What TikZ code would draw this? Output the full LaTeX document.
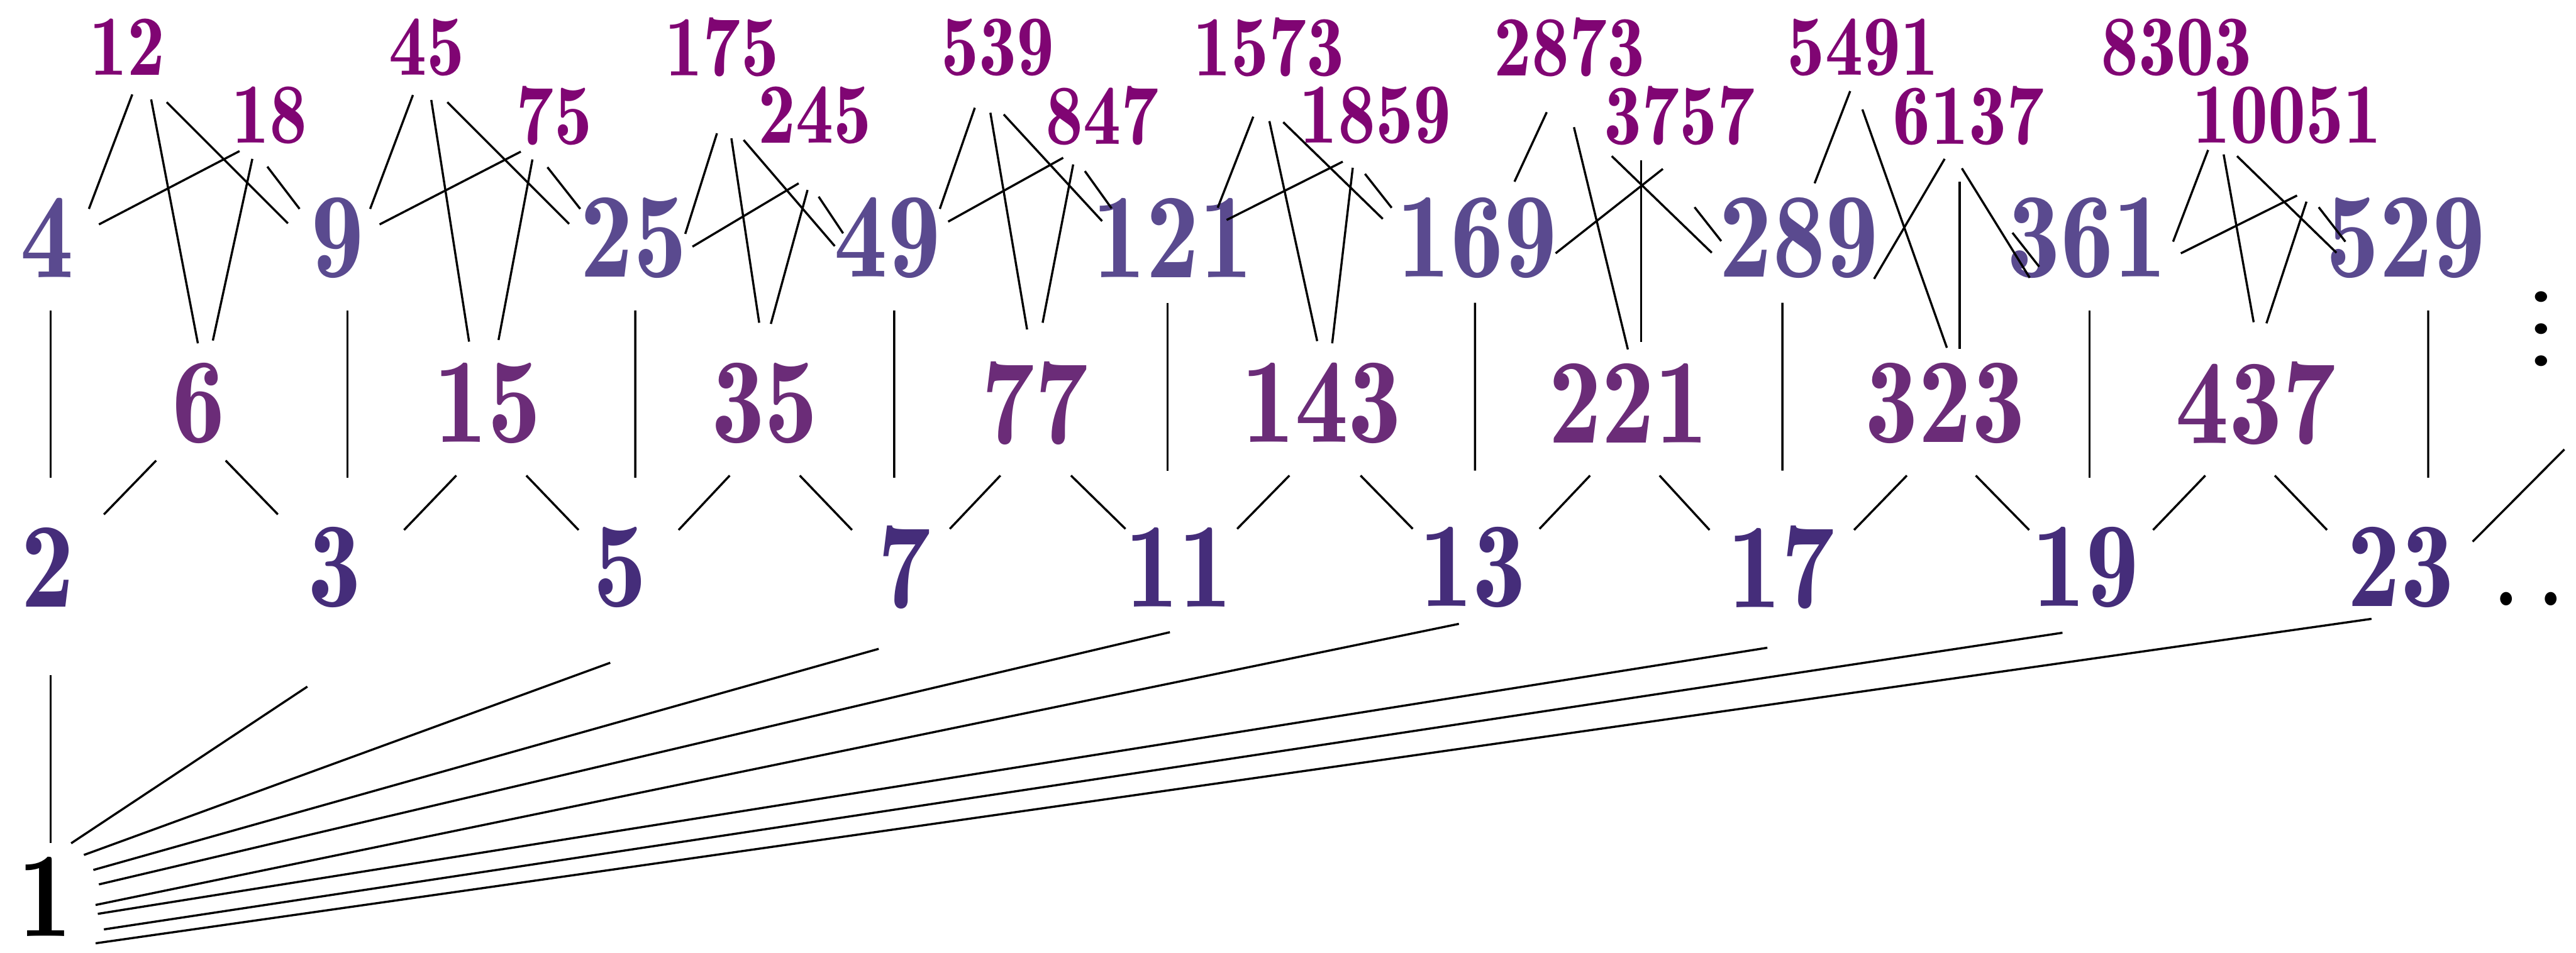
\documentclass[tikz,border=0pt]{standalone}
\usepackage{fontspec}
\setmainfont{lmromandemi10-regular.otf}[FakeStretch=0.88]
\usetikzlibrary{calc}
\definecolor{primecol}{RGB}{69,45,122}
\definecolor{sqcol}{RGB}{90,74,143}
\definecolor{pqcol}{RGB}{107,44,120}
\definecolor{topcol}{RGB}{128,5,115}

\begin{document}
\begin{tikzpicture}[
  num/.style={inner sep=0pt,font=\fontsize{62}{70}\selectfont},
  small/.style={inner sep=0pt,font=\fontsize{44}{50}\selectfont,text=topcol},
  link/.style={line width=1.1pt}
]
  \useasboundingbox (0,0) rectangle (46.35,-17.15);
  % unit
  \node[num] (one) at (0.81,-16.14) {1};
  % primes
  \foreach \n/\x in {2/0.86,3/6.02,5/11.16,7/16.27,11/21.21,13/26.50,17/32.05,19/37.53,23/43.20}
    \node[num,text=primecol] (p\n) at (\x,-10.21) {\n};
  \node[inner sep=0pt,font=\fontsize{44}{50}\selectfont] (dots) at (45.50,-10.78) {.\hspace{0.43cm}.};
  % products of two primes
  \foreach \n/\x in {6/3.57,15/8.77,35/13.76,77/18.62,143/23.78,221/29.30,323/35.00,437/40.59}
    \node[num,text=pqcol] (m\n) at (\x,-7.26) {\n};
  \node[inner sep=0pt,rotate=90,font=\fontsize{40}{46}\selectfont] (vdots) at (45.72,-5.92)
    {.\hspace{0.23cm}.\hspace{0.23cm}.};
  % squares
  \foreach \n/\x in {4/0.85,9/6.07,25/11.40,49/15.97,121/21.10,169/26.58,289/32.37,361/37.55,529/43.29}
    \node[num,text=sqcol] (q\n) at (\x,-4.28) {\n};
  % p^2 q and p q^2
  \foreach \n/\x in {12/2.29,45/7.68,175/12.99,539/17.95,1573/22.83,2873/28.24,5491/33.52,8303/39.16}
    \node[small] (a\n) at (\x,-0.85) {\n};
  \foreach \n/\x in {18/4.85,75/9.97,245/14.66,847/19.83,1859/24.75,3757/30.22,6137/35.42,10051/41.15}
    \node[small] (b\n) at (\x,-2.08) {\n};

  % 1 to the primes
  \foreach \p/\ax/\ay/\bx/\by in {p2/0.10/0.97/0.05/-1.94, p3/0.47/0.96/-0.49/-2.15,
      p5/0.70/0.75/-0.18/-1.72, p7/0.87/0.48/-0.46/-1.47, p11/0.97/0.22/-0.16/-1.17,
      p13/0.91/-0.15/-0.25/-1.02, p17/0.95/-0.31/-0.25/-1.45, p19/1.06/-0.59/-0.42/-1.18,
      p23/0.91/-0.84/-0.53/-0.93}
    \draw[link] ($(one)+(\ax,\ay)$) -- ($(\p)+(\bx,\by)$);
  % primes to squares
  \foreach \p/\ax/\ay/\q/\bx/\by in {p2/0.05/1.61/q4/0.06/-1.31, p3/0.23/1.61/q9/0.18/-1.31,
      p5/0.27/1.61/q25/0.03/-1.31, p7/-0.18/1.61/q49/0.12/-1.31, p11/-0.20/1.74/q121/-0.09/-1.17,
      p13/0.04/1.74/q169/-0.04/-1.17, p17/0.02/1.74/q289/-0.30/-1.17, p19/0.07/1.61/q361/0.05/-1.31,
      p23/0.49/1.61/q529/0.40/-1.31}
    \draw[link] ($(\p)+(\ax,\ay)$) -- ($(\q)+(\bx,\by)$);
  % products to primes
  \foreach \m/\ax/\ay/\p/\bx/\by in {m6/-0.76/-1.03/p2/1.01/0.95, m6/0.49/-1.03/p3/-1.02/0.95,
      m15/-0.56/-1.30/p3/1.25/0.67, m15/0.70/-1.30/p5/-0.75/0.67,
      m35/-0.63/-1.30/p5/1.05/0.67, m35/0.63/-1.30/p7/-0.94/0.67,
      m77/-0.62/-1.30/p7/0.82/0.69, m77/0.65/-1.30/p11/-0.96/0.69,
      m143/-0.58/-1.30/p11/1.05/0.69, m143/0.70/-1.30/p13/-1.08/0.69,
      m221/-0.69/-1.30/p13/1.20/0.69, m221/0.56/-1.30/p17/-1.29/0.67,
      m323/-0.69/-1.30/p17/1.31/0.67, m323/0.55/-1.30/p19/-1.02/0.67,
      m437/-0.91/-1.30/p19/1.21/0.67, m437/0.34/-1.30/p23/-1.33/0.67}
    \draw[link] ($(\m)+(\ax,\ay)$) -- ($(\p)+(\bx,\by)$);
  \coordinate (next) at (46.14,-8.09);
  \draw[link] ($(p23)+(1.29,0.46)$) -- (next);
  % top rows down to squares and products
  \foreach \s/\ax/\ay/\t/\bx/\by in {
      a12/0.09/-0.85/q4/0.75/0.52, a12/0.43/-0.94/m6/-0.01/1.08, a12/0.71/-0.99/q9/-0.89/0.26,
      b18/-0.54/-0.64/q4/0.93/0.24, b18/-0.31/-0.78/m6/0.26/1.13, b18/-0.04/-0.92/q9/-0.68/0.52,
      a45/-0.25/-0.86/q9/0.59/0.52, a45/0.08/-0.95/m15/-0.33/1.11, a45/0.37/-0.99/q25/-1.16/0.25,
      b75/-0.60/-0.65/q9/0.76/0.24, b75/-0.39/-0.79/m15/0.20/1.14, b75/-0.12/-0.93/q25/-0.96/0.52,
      a175/-0.09/-1.55/q25/0.93/0.07, a175/0.17/-1.64/m35/-0.10/1.45, a175/0.39/-1.67/q49/-0.95/-0.15,
      b245/-0.29/-1.22/q25/1.06/-0.16, b245/-0.13/-1.34/m35/0.11/1.43, b245/0.07/-1.46/q49/-0.80/0.08,
      a539/-0.41/-1.09/q49/0.94/0.52, a539/-0.13/-1.18/m77/-0.14/1.33, a539/0.11/-1.21/q121/-1.27/0.30,
      b847/-0.70/-0.76/q49/1.09/0.29, b847/-0.52/-0.88/m77/0.14/1.45, b847/-0.31/-1.00/q121/-1.10/0.53,
      a1573/-0.28/-1.25/q121/0.81/0.54, a1573/0.01/-1.33/m143/-0.08/1.12, a1573/0.26/-1.35/q169/-1.70/0.34,
      b1859/-0.59/-0.83/q121/0.97/0.32, b1859/-0.41/-0.94/m143/0.19/1.08, b1859/-0.19/-1.05/q169/-1.54/0.54,
      a2873/-0.41/-1.17/q169/0.67/1.01, a2873/0.08/-1.44/m221/-0.01/0.97, a2873/0.76/-1.96/q289/-1.57/-0.27,
      b3757/-0.30/-0.96/q169/1.41/-0.28, b3757/-0.69/-0.81/m221/0.23/1.10, b3757/0.27/-1.65/q289/-1.40/-0.06,
      a5491/-0.23/-0.79/q289/0.28/0.98, a5491/-0.01/-1.12/m323/0.03/1.00, a5491/2.69/-3.34/q361/-0.86/-0.52,
      b6137/-0.43/-0.78/q289/1.35/-0.74, b6137/-0.16/-1.19/m323/0.26/0.98, b6137/-0.12/-0.95/q361/-1.03/-0.72,
      a8303/2.17/-2.67/q361/1.69/-0.28, a8303/2.34/-2.78/m437/0.19/1.44, a8303/2.56/-2.88/q529/-1.09/-0.07,
      b10051/-1.42/-0.62/q361/1.55/-0.07, b10051/-1.14/-0.70/m437/-0.04/1.46, b10051/-0.90/-0.73/q529/-1.25/-0.27}
    \draw[link] ($(\s)+(\ax,\ay)$) -- ($(\t)+(\bx,\by)$);
\end{tikzpicture}
\end{document}
